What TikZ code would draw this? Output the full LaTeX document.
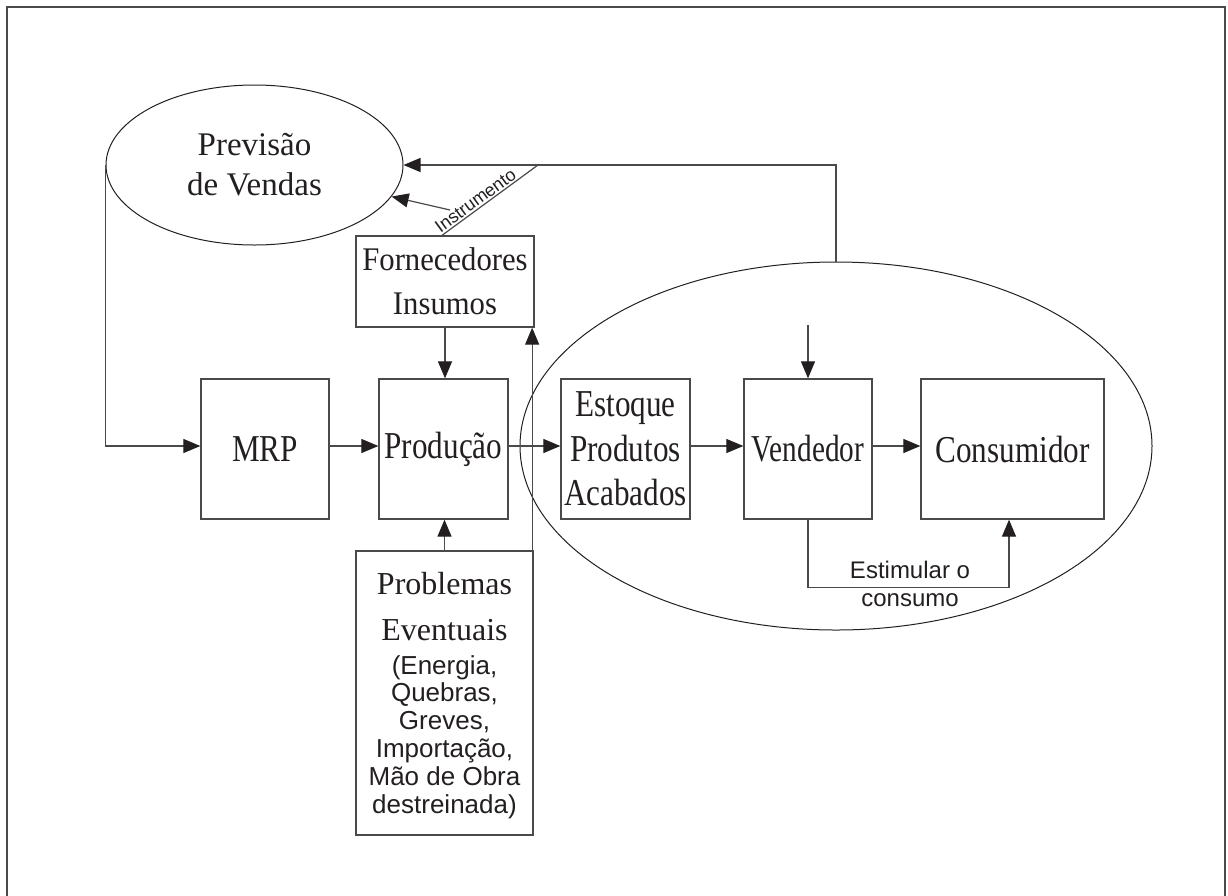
\documentclass[tikz,border=0pt]{standalone}
\usepackage{fontspec}
\setmainfont{Liberation Serif}
\newfontfamily\bigserif[FakeStretch=0.82]{Liberation Serif}
\newfontfamily\narserif[FakeStretch=0.77]{Liberation Serif}
\newfontfamily\midserif[FakeStretch=0.93]{Liberation Serif}
\newfontfamily\sansf{Liberation Sans}
\usetikzlibrary{shapes.geometric,arrows.meta}
\definecolor{ink}{HTML}{231F20}
\definecolor{edge}{HTML}{4A4A4A}
\begin{document}
\begin{tikzpicture}[x=1pt,y=-1pt,
  box/.style={draw=edge, line width=1.3pt, rectangle, inner sep=0pt, align=center, text=ink},
  bigtxt/.style={font=\bigserif\fontsize{38}{44.5}\selectfont},
  arr/.style={draw=edge, line width=1.2pt, -{Triangle[length=17pt,width=14pt,color=ink]}},
  ln/.style={draw=edge, line width=1.2pt},
  ell/.style={draw=ink, line width=1pt, ellipse, inner sep=0pt}]
\useasboundingbox (0,0) rectangle (1228,895);
\draw[draw=edge,line width=2pt] (7,900) -- (7,7) -- (1225,7) -- (1225,900);

% ellipses
\node[ell, minimum width=297, minimum height=160, align=center, text=ink,
      font=\fontsize{33}{40}\selectfont] (prev) at (254.5,165) {Previsão\\de Vendas};
\node[ell, minimum width=632, minimum height=368] (mkt) at (836,446) {};

% boxes
\node[box, bigtxt, minimum width=128, minimum height=140] (mrp) at (265,449) {MRP};
\node[box, bigtxt, minimum width=129, minimum height=140] (prod) at (443.5,449) {Produção};
\node[box, bigtxt, minimum width=129, minimum height=140] (est) at (625.5,449) {Estoque\\Produtos\\Acabados};
\node[box, font=\narserif\fontsize{38}{44.5}\selectfont, minimum width=128, minimum height=140] (vend) at (808,449) {Vendedor};
\node[box, bigtxt, minimum width=183, minimum height=140] (cons) at (1012.5,449) {Consumidor};
\node[box, font=\midserif\fontsize{33}{44}\selectfont, minimum width=178, minimum height=91] (forn) at (445,281.5) {Fornecedores\\Insumos};
\node[box, minimum width=177, minimum height=284] (prob) at (444.5,693) {};

% text of Problemas box
\node[anchor=base, text=ink, inner sep=0pt, font=\fontsize{32}{32}\selectfont] (pt1) at (444.5,594) {Problemas};
\node[anchor=base, text=ink, inner sep=0pt, font=\fontsize{32}{32}\selectfont] (pt2) at (444.5,640) {Eventuais};
\foreach \t [count=\i] in {{(Energia,},{Quebras,},{Greves,},{Importação,},{Mão de Obra},{destreinada)}}
  \node[anchor=base, text=ink, inner sep=0pt, font=\sansf\fontsize{26}{26}\selectfont] (pl\i) at (444.5,{674+27.9*(\i-1)}) {\t};

% horizontal chain
\draw[arr] ([yshift=3pt]mrp.east) -- ([yshift=3pt]prod.west);
\draw[arr] ([yshift=3pt]prod.east) -- ([yshift=3pt]est.west);
\draw[arr] ([yshift=3pt]est.east) -- ([yshift=3pt]vend.west);
\draw[arr] ([yshift=3pt]vend.east) -- ([yshift=3pt]cons.west);

% Previsao -> MRP
\draw[arr] (prev.west) |- ([yshift=3pt]mrp.west);

% Fornecedores / Problemas -> Producao
\draw[arr] (forn.south) -- (forn.south |- prod.north);
\draw[arr] (prob.north) -- (prob.north |- prod.south);
\coordinate (upb) at ([xshift=-1.5pt]prob.north east);
\draw[arr] (upb) -- (upb |- forn.south);

% feedback from market to Previsao
\draw[arr] (mkt.north) |- (prev.east);
\coordinate (itop) at (538,165);
\draw[ln] ([xshift=-3pt]forn.north) -- node[sloped, above, pos=0.4, inner sep=1.5pt, text=ink,
      font=\sansf\fontsize{18}{18}\selectfont] (instr) {Instrumento} (itop);
\coordinate (ia) at (450,210);
\draw[arr] (ia) -- (prev);

% arrow into Vendedor
\coordinate (vtop) at (808,325);
\draw[arr] (vtop) -- (vend.north);

% Estimular o consumo
\draw[arr] (vend.south) -- ++(0,68) -| ([xshift=-3.5pt]cons.south);
\node[align=center, text=ink, inner sep=0pt, font=\sansf\fontsize{24}{28}\selectfont] (stim) at (910,583.5) {Estimular o\\consumo};
\end{tikzpicture}
\end{document}
